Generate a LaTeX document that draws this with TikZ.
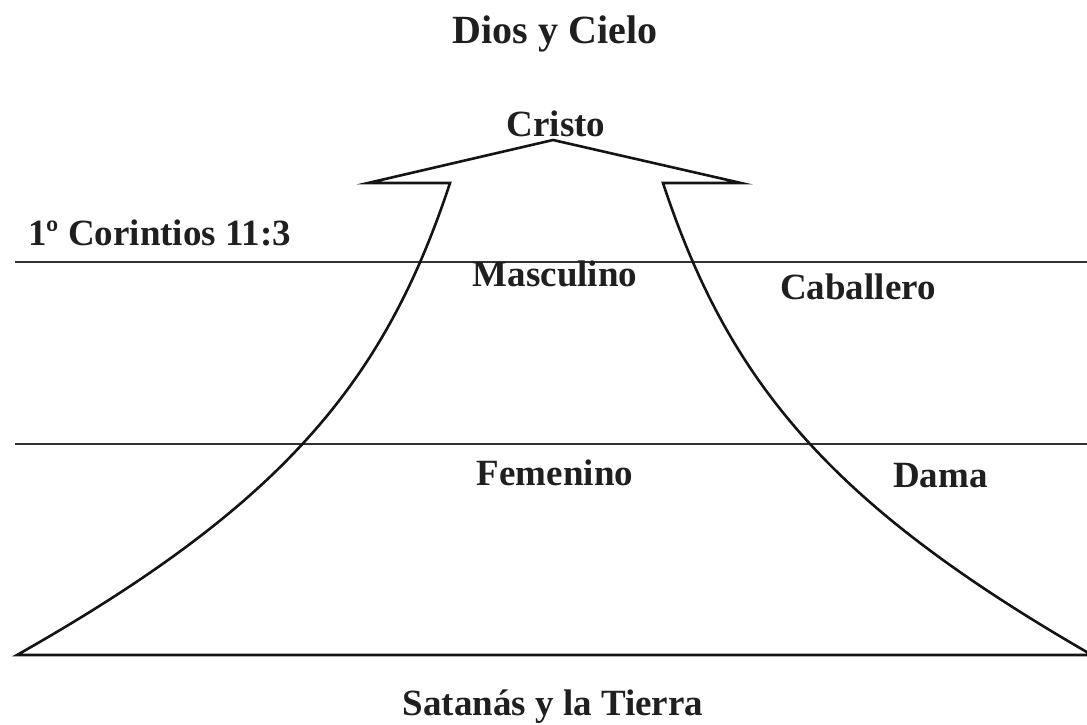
\documentclass[tikz,border=0pt]{standalone}
\usepackage{fontspec}
\setmainfont{Liberation Serif}
\begin{document}
\begin{tikzpicture}[x=1pt,y=-1pt,
  lbl/.style={inner sep=0pt,font=\fontsize{37}{40}\selectfont\bfseries,text=black!88},
  big/.style={lbl,font=\fontsize{40}{44}\selectfont\bfseries},
  hline/.style={line width=1.4pt,black!80},
  outline/.style={line width=2.6pt,black!92,line join=miter}]
\useasboundingbox (0,0) rectangle (1087,724);
% horizontal lines
\coordinate (l1a) at (15,262); \coordinate (l1b) at (1087,262);
\coordinate (l2a) at (15,444); \coordinate (l2b) at (1087,444);
\draw[hline] (l1a) -- (l1b);
\draw[hline] (l2a) -- (l2b);
% arrow outline
\coordinate (apex) at (553,140);
\coordinate (ltip) at (368,183);
\coordinate (lin) at (450,183);
\coordinate (rin) at (663,183);
\coordinate (rtip) at (741,183);
\coordinate (bl) at (17,655);
\coordinate (br) at (1092,655);
\draw[outline] (br) -- (bl)
  .. controls (282,505) and (384,383) .. (lin)
  -- (ltip) -- (apex) -- (rtip) -- (rin)
  .. controls (729,383) and (831,505) .. (br);
% labels
\node[big,anchor=base] (dios) at (555,43) {Dios y Cielo};
\node[lbl,anchor=base] (cristo) at (556,136) {Cristo};
\node[lbl,anchor=base west] (cor) at (28,245) {1º Corintios 11:3};
\node[lbl,anchor=base] (masc) at (555,286) {Masculino};
\node[lbl,anchor=base west] (cab) at (780,299) {Caballero};
\node[lbl,anchor=base] (fem) at (555,485) {Femenino};
\node[lbl,anchor=base west] (dama) at (893,487) {Dama};
\node[lbl,anchor=base] (sat) at (553,715) {Satanás y la Tierra};
\end{tikzpicture}
\end{document}
